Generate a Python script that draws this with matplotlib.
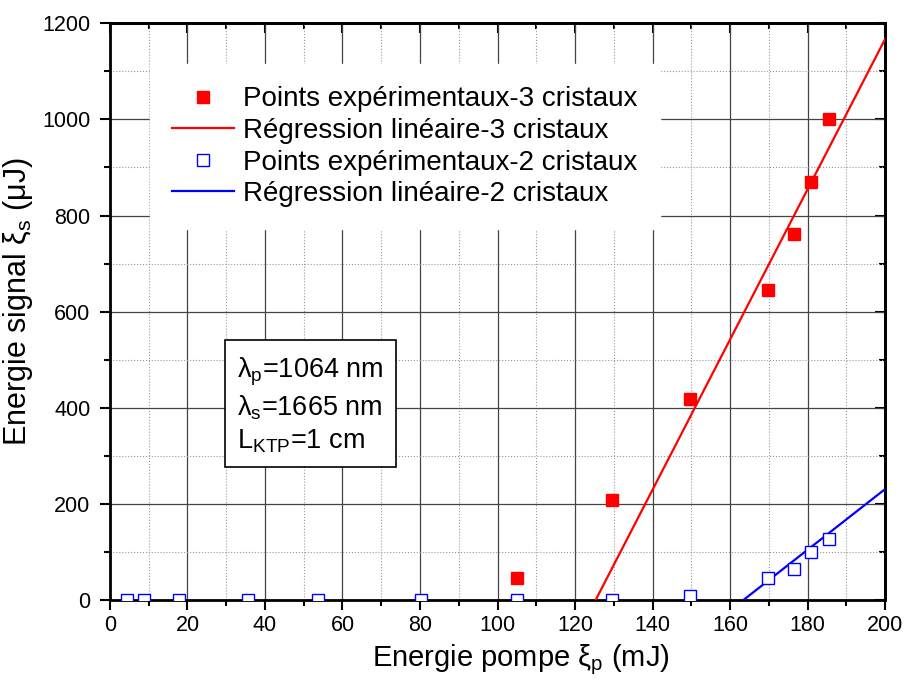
import matplotlib.pyplot as plt
from matplotlib.ticker import MultipleLocator

plt.rcParams['font.family'] = ['Liberation Sans', 'DejaVu Sans']
plt.rcParams['mathtext.fontset'] = 'custom'
plt.rcParams['mathtext.rm'] = 'Liberation Sans'
plt.rcParams['mathtext.it'] = 'Liberation Sans'

# données
x_3cr = [104.9, 129.5, 149.7, 169.7, 176.4, 180.8, 185.4]
y_3cr = [46, 208, 419, 646, 762, 869, 1000]

x_2cr = [4.5, 8.8, 17.8, 35.6, 53.6, 80.3, 104.9, 129.5, 149.7, 169.8, 176.5, 181.0, 185.5]
y_2cr = [0, 0, 0, 0, 0, 0, 0, 0, 9, 47, 64, 101, 127]

# droites de régression (extrémités)
fit_3cr_x = [125.3, 200]
fit_3cr_y = [0, 1167]
fit_2cr_x = [163.4, 200]
fit_2cr_y = [0, 231]

fig = plt.figure(figsize=(9.05, 6.82), dpi=100)
ax = fig.add_axes([0.1215, 0.120, 0.8565, 0.846])

ax.plot(x_3cr, y_3cr, 's', color='red', markersize=8.5, linestyle='none',
        label='Points expérimentaux-3 cristaux', zorder=5)
ax.plot(fit_3cr_x, fit_3cr_y, '-', color='red', linewidth=1.6,
        label='Régression linéaire-3 cristaux', zorder=4)
ax.plot(x_2cr, y_2cr, 's', markerfacecolor='white', markeredgecolor='blue',
        markeredgewidth=1.0, markersize=8.5, linestyle='none',
        label='Points expérimentaux-2 cristaux', zorder=5)
ax.plot(fit_2cr_x, fit_2cr_y, '-', color='blue', linewidth=1.6,
        label='Régression linéaire-2 cristaux', zorder=4)

ax.set_xlim(0, 200)
ax.set_ylim(0, 1200)
ax.xaxis.set_major_locator(MultipleLocator(20))
ax.xaxis.set_minor_locator(MultipleLocator(10))
ax.yaxis.set_major_locator(MultipleLocator(200))
ax.yaxis.set_minor_locator(MultipleLocator(100))

ax.grid(True, which='major', color='#444444', linestyle='-', linewidth=0.9)
ax.grid(True, which='minor', color='#999999', linestyle=':', linewidth=0.8)
ax.set_axisbelow(True)

# graduations extérieures en bas/à gauche, intérieures en haut/à droite
ax.tick_params(which='both', direction='out', width=1.5)
ax.tick_params(which='major', length=7, labelsize=15.5, pad=4)
ax.tick_params(axis='y', which='major', pad=7)
ax.tick_params(which='minor', length=4)
sec_x = ax.secondary_xaxis('top')
sec_y = ax.secondary_yaxis('right')
for sec in (sec_x, sec_y):
    sec.tick_params(which='both', direction='in', width=1.5, labelleft=False,
                    labeltop=False, labelright=False)
    sec.tick_params(which='major', length=7)
    sec.tick_params(which='minor', length=4)
sec_x.xaxis.set_major_locator(MultipleLocator(20))
sec_x.xaxis.set_minor_locator(MultipleLocator(10))
sec_y.yaxis.set_major_locator(MultipleLocator(200))
sec_y.yaxis.set_minor_locator(MultipleLocator(100))
for s in list(ax.spines.values()) + [sec_x.spines['top'], sec_y.spines['right']]:
    s.set_linewidth(2)

ax.set_xlabel(r'Energie pompe $\mathregular{\xi_p}$ (mJ)', fontsize=21, labelpad=2)
ax.xaxis.set_label_coords(0.53, -0.073)
ax.set_ylabel(r'Energie signal $\mathregular{\xi_s}$ ($\mathregular{\mu}$J)', fontsize=22)
ax.yaxis.set_label_coords(-0.097, 0.518)

leg = ax.legend(loc='upper left', bbox_to_anchor=(0.034, 0.953), fontsize=20,
                frameon=True, fancybox=False, framealpha=1, edgecolor='white',
                facecolor='white', handlelength=2.2, handletextpad=0.35,
                labelspacing=0.2, borderpad=0.8)

ax.text(0.164, 0.337,
        '$\\mathregular{\\lambda_p}$=1064 nm\n$\\mathregular{\\lambda_s}$=1665 nm\n$\\mathregular{L_{KTP}}$=1 cm',
        transform=ax.transAxes, fontsize=19.5, linespacing=1.25, va='center', ha='left',
        bbox=dict(boxstyle='square,pad=0.45', facecolor='white', edgecolor='black', linewidth=1.2))

fig.savefig('out.png', dpi=100)
